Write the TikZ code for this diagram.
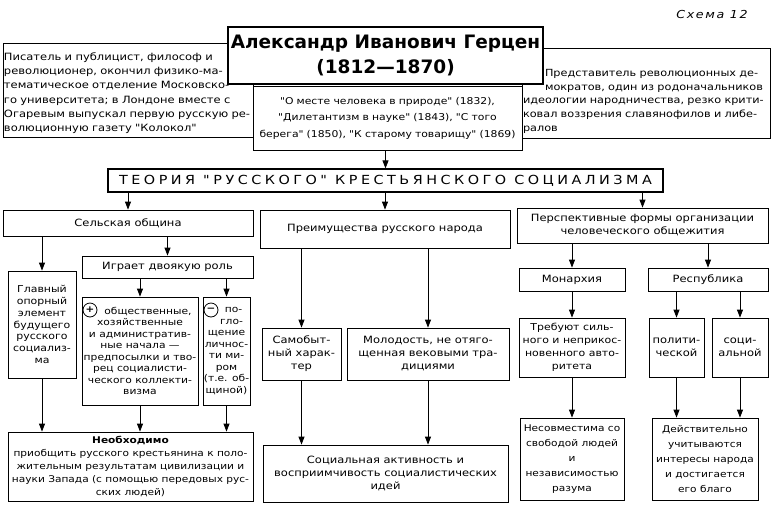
\documentclass[tikz,border=0pt]{standalone}
\usepackage{fontspec}
\setmainfont{DejaVu Sans}[FakeStretch=1.15, Ligatures=TeXOff]
\newfontfamily\titlefont{DejaVu Sans}
\usetikzlibrary{arrows.meta, positioning}

\begin{document}
\begin{tikzpicture}[x=1pt, y=-1pt]
  \tikzset{box/.style={rectangle, draw=black, line width=0.8pt, fill=white,
                        align=center, inner sep=0pt,
                        font=\fontsize{10}{13}\selectfont}}
  \tikzset{arr/.style={-{Triangle[length=8pt, width=6pt]}, line width=0.8pt}}
  \tikzset{sign/.style={circle, draw=black, line width=0.8pt, inner sep=0pt,
                        minimum size=14pt, font=\fontsize{9}{9}\selectfont\bfseries}}

  \useasboundingbox (0,0) rectangle (776,512);

  % Header
  \node[font=\fontsize{11}{11}\selectfont\itshape\addfontfeature{LetterSpace=15}] (schema) at (712,14) {Схема 12};

  % Side notes under the title
  \node[box, minimum width=250, minimum height=94, text width=248, align=left,
        font=\fontsize{10}{14.2}\selectfont] (bio) at (128,90)
    {\rule{0pt}{14pt}Писатель и публицист, философ и\\революционер, окончил физико-ма-\\тематическое отделение Московско-\\го университета; в Лондоне вместе с\\Огаревым выпускал первую русскую ре-\\волюционную газету "Колокол"};
  \node[box, minimum width=248, minimum height=90, text width=246, align=left,
        font=\fontsize{9.8}{13.8}\selectfont] (role) at (646,93)
    {\rule{0pt}{24pt}\hspace*{22pt}Представитель революционных де-\\\hspace*{22pt}мократов, один из родоначальников\\идеологии народничества, резко крити-\\ковал воззрения славянофилов и либе-\\ралов};
  \node[box, minimum width=269, minimum height=64, text width=268,
        font=\fontsize{9.4}{16.5}\selectfont] (works) at (387.5,118)
    {"О месте человека в природе" (1832),\\"Дилетантизм в науке" (1843), "С того\\берега" (1850), "К старому товарищу" (1869)};
  \node[box, line width=1.6pt, minimum width=315, minimum height=57,
        font=\titlefont\fontsize{18.5}{25}\selectfont\bfseries] (herzen) at (385.5,55.5)
    {Александр Иванович Герцен\\(1812—1870)};

  % Theory
  \node[box, line width=1.2pt, minimum width=555, minimum height=23,
        font=\fontsize{12.5}{14}\selectfont\addfontfeature{LetterSpace=28}] (theory) at (385.5,180.5)
    {ТЕОРИЯ "РУССКОГО" КРЕСТЬЯНСКОГО СОЦИАЛИЗМА};
  \draw[arr] (works.south -| theory) -- (theory.north);

  % Three branches
  \node[box, minimum width=250, minimum height=26] (obshchina) at (128,223) {Сельская община};
  \node[box, minimum width=250, minimum height=38] (advantage) at (385,229) {Преимущества русского народа};
  \node[box, minimum width=251, minimum height=35] (forms) at (642.5,225.5)
    {Перспективные формы организации\\человеческого общежития};
  \draw[arr] (theory.south -| obshchina) -- (obshchina.north);
  \draw[arr] (theory.south -| advantage) -- (advantage.north);
  \draw[arr] (theory.south -| forms) -- (forms.north);

  % Village community
  \node[box, minimum width=68, minimum height=107,
        font=\fontsize{9.5}{11.8}\selectfont] (mainel) at (42,324.5)
    {Главный\\опорный\\элемент\\будущего\\русского\\социализ-\\ма};
  \node[box, minimum width=171, minimum height=22] (dual) at (167.5,267) {Играет двоякую роль};
  \draw[arr] (obshchina.south -| mainel) -- (mainel.north);
  \draw[arr] (obshchina.south -| dual) -- (dual.north);
  \node[box, minimum width=116, minimum height=108,
        font=\fontsize{9.3}{11.5}\selectfont] (pluscol) at (140,351)
    {\hspace*{16pt}общественные,\\хозяйственные\\и административ-\\ные начала —\\предпосылки и тво-\\рец социалисти-\\ческого коллекти-\\визма};
  \node[box, minimum width=47, minimum height=108,
        font=\fontsize{9.3}{11.5}\selectfont] (minuscol) at (226.5,351)
    {\hspace*{14pt}по-\\\hspace*{10pt}гло-\\щение\\личнос-\\ти ми-\\ром\\(т.е. об-\\щиной)};
  \node[sign] (plussign) at (90,310) {+};
  \node[sign] (minussign) at (211,310) {−};
  \draw[arr] (dual.south -| pluscol) -- (pluscol.north);
  \draw[arr] (dual.south -| minuscol) -- (minuscol.north);
  \node[box, minimum width=245, minimum height=69,
        font=\fontsize{9.2}{13}\selectfont] (needed) at (130.5,466.5)
    {\textbf{Необходимо}\\приобщить русского крестьянина к поло-\\жительным результатам цивилизации и\\науки Запада (с помощью передовых рус-\\ских людей)};
  \draw[arr] (mainel.south) -- (needed.north -| mainel);
  \draw[arr] (pluscol.south) -- (needed.north -| pluscol);
  \draw[arr] (minuscol.south) -- (needed.north -| minuscol);

  % Advantages of the Russian people
  \node[box, minimum width=79, minimum height=52] (original) at (301.5,354)
    {Самобыт-\\ный харак-\\тер};
  \node[box, minimum width=162, minimum height=52] (youth) at (428,354)
    {Молодость, не отяго-\\щенная вековыми тра-\\дициями};
  \draw[arr] (advantage.south -| original) -- (original.north);
  \draw[arr] (advantage.south -| youth) -- (youth.north);
  \node[box, minimum width=245, minimum height=57] (activity) at (385.5,473.5)
    {Социальная активность и\\восприимчивость социалистических\\идей};
  \draw[arr] (original.south) -- (activity.north -| original);
  \draw[arr] (youth.south) -- (activity.north -| youth);

  % Forms of society
  \node[box, minimum width=106, minimum height=23] (monarchy) at (572,279.5) {Монархия};
  \node[box, minimum width=120, minimum height=23] (republic) at (708,279.5) {Республика};
  \draw[arr] (forms.south -| monarchy) -- (monarchy.north);
  \draw[arr] (forms.south -| republic) -- (republic.north);
  \node[box, minimum width=106, minimum height=59,
        font=\fontsize{9.5}{13}\selectfont] (authority) at (572,347.5)
    {Требуют силь-\\ного и неприкос-\\новенного авто-\\ритета};
  \node[box, minimum width=55, minimum height=59] (political) at (676.5,347.5)
    {полити-\\ческой};
  \node[box, minimum width=56, minimum height=59] (social) at (740,347.5)
    {соци-\\альной};
  \draw[arr] (monarchy.south) -- (authority.north);
  \draw[arr] (republic.south -| political) -- (political.north);
  \draw[arr] (republic.south -| social) -- (social.north);
  \node[box, minimum width=104, minimum height=82,
        font=\fontsize{9.2}{15}\selectfont] (freedom) at (572,459)
    {Несовместима со\\свободой людей\\и\\независимостью\\разума};
  \node[box, minimum width=106, minimum height=82,
        font=\fontsize{9.2}{15}\selectfont] (welfare) at (705,459)
    {Действительно\\учитываются\\интересы народа\\и достигается\\его благо};
  \draw[arr] (authority.south) -- (freedom.north);
  \draw[arr] (political.south) -- (welfare.north -| political);
  \draw[arr] (social.south) -- (welfare.north -| social);
\end{tikzpicture}
\end{document}
